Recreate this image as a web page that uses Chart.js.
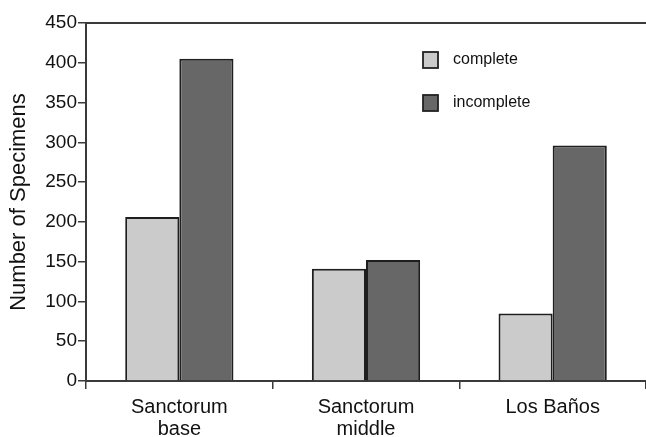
<!DOCTYPE html>
<html>
<head>
<meta charset="utf-8">
<script src="https://cdn.jsdelivr.net/npm/chart.js@4/dist/chart.umd.min.js"></script>
<style>
  html, body { margin: 0; padding: 0; background: #fff; }
  #wrap { width: 646px; height: 437px; position: relative; }
</style>
</head>
<body>
<div id="wrap"><canvas id="specChart"></canvas></div>
<script>
// values
var sites = [["Sanctorum", "base"], ["Sanctorum", "middle"], "Los Baños"];
var completeCounts = [206, 141, 85];
var incompleteCounts = [405, 152, 296];
var yTicks = [0, 50, 100, 150, 200, 250, 300, 350, 400, 450];

var axisColor = '#3a3a3a';
var fontFamily = '"Liberation Sans", Arial, Helvetica, sans-serif';

// top border line + legend drawn by hand, like the original figure
var framePlugin = {
    id: 'frame',
    afterDraw: function (chart) {
        var ctx = chart.ctx;
        var area = chart.chartArea;
        ctx.save();
        ctx.strokeStyle = axisColor;
        ctx.lineWidth = 2;
        ctx.beginPath();
        ctx.moveTo(area.left, area.top);
        ctx.lineTo(chart.width, area.top);
        ctx.stroke();

        // legend
        var items = chart.data.datasets;
        ctx.font = '16px ' + fontFamily;
        ctx.textBaseline = 'middle';
        ctx.textAlign = 'left';
        items.forEach(function (ds, i) {
            var bx = 423, by = 52 + i * 43;
            ctx.fillStyle = ds.backgroundColor;
            ctx.fillRect(bx, by, 15, 16);
            ctx.strokeStyle = '#222';
            ctx.lineWidth = 1.8;
            ctx.strokeRect(bx, by, 15, 16);
            ctx.fillStyle = '#111';
            ctx.fillText(ds.label, 453, by + 8);
        });
        ctx.restore();
    }
};

new Chart(document.getElementById('specChart'), {
    type: 'bar',
    data: {
        labels: sites,
        datasets: [{
            label: 'complete',
            data: completeCounts,
            backgroundColor: '#cbcbcb',
            borderColor: '#1e1e1e',
            borderWidth: 2
        }, {
            label: 'incomplete',
            data: incompleteCounts,
            backgroundColor: '#676767',
            borderColor: '#1e1e1e',
            borderWidth: 2
        }]
    },
    options: {
        responsive: true,
        maintainAspectRatio: false,
        animation: false,
        events: [],
        layout: { padding: { top: 23, right: 0, left: 0, bottom: 0 } },
        datasets: {
            bar: { categoryPercentage: 0.58, barPercentage: 1.0 }
        },
        plugins: {
            legend: { display: false },
            tooltip: { enabled: false }
        },
        scales: {
            x: {
                grid: {
                    offset: true,
                    drawOnChartArea: false,
                    color: axisColor,
                    lineWidth: 1.5,
                    tickLength: 8
                },
                border: { color: axisColor, width: 2 },
                ticks: {
                    color: '#111',
                    padding: 7,
                    font: { family: fontFamily, size: 20, lineHeight: 1.1 }
                },
                afterFit: function (scale) { scale.height = 56; }
            },
            y: {
                min: 0,
                max: 450,
                afterBuildTicks: function (scale) {
                    scale.ticks = yTicks.map(function (v) { return { value: v }; });
                },
                grid: {
                    drawOnChartArea: false,
                    color: axisColor,
                    lineWidth: 1.5,
                    tickLength: 8
                },
                border: { color: axisColor, width: 2 },
                ticks: {
                    color: '#111',
                    padding: 1,
                    font: { family: fontFamily, size: 19 }
                },
                title: {
                    display: true,
                    text: 'Number of Specimens',
                    color: '#111',
                    padding: { top: 6, bottom: 0 },
                    font: { family: fontFamily, size: 22 }
                },
                afterFit: function (scale) { scale.width = 86; }
            }
        }
    },
    plugins: [framePlugin]
});
</script>
</body>
</html>
